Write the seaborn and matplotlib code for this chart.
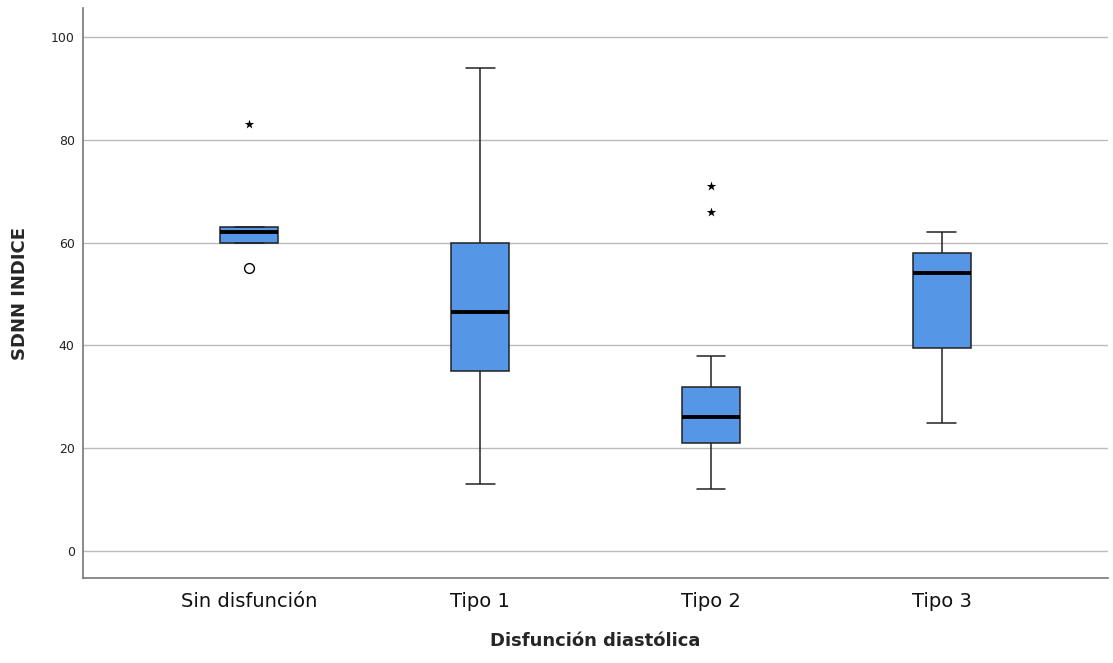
import numpy as np
import pandas as pd
import matplotlib
matplotlib.use("Agg")
import matplotlib.pyplot as plt
import seaborn as sns

# valores (SDNN por grupo de disfuncion diastolica)
categorias = ["Sin disfunción", "Tipo 1", "Tipo 2", "Tipo 3"]
sin_disfuncion = [55, 60, 60, 62, 63, 63, 83]
tipo_1 = [13, 28, 35, 42, 46.5, 52, 60, 75, 94]
tipo_2 = [12, 15, 19, 21, 23, 25, 26, 28, 30, 32, 38, 66, 71]
tipo_3 = [25, 35, 39.5, 48, 54, 56, 58, 60, 62]
y_ticks = [0, 20, 40, 60, 80, 100]

grupos = [sin_disfuncion, tipo_1, tipo_2, tipo_3]
df = pd.DataFrame({
    "grupo": np.repeat(categorias, [len(g) for g in grupos]),
    "sdnn": np.concatenate(grupos),
})

sns.set_style("white")
plt.rcParams["font.family"] = ["DejaVu Sans"]

fig = plt.figure(figsize=(11.13, 6.63), dpi=100)
ax = fig.add_axes([0.0746, 0.128, 0.921, 0.86])

sns.boxplot(data=df, x="grupo", y="sdnn", order=categorias, color="#5596E6",
            saturation=1, width=0.25, linecolor="#222222", linewidth=1.1,
            showfliers=False, medianprops=dict(color="black", linewidth=2.8),
            ax=ax, zorder=3)

# outliers estilo SPSS: circulo (>1.5 IQR), asterisco (>3 IQR)
leves, extremos = [], []
for i, g in enumerate(grupos):
    v = np.array(g, dtype=float)
    q1, q3 = np.percentile(v, [25, 75])
    iqr = q3 - q1
    for val in v:
        if val < q1 - 3 * iqr or val > q3 + 3 * iqr:
            extremos.append((i, val))
        elif val < q1 - 1.5 * iqr or val > q3 + 1.5 * iqr:
            leves.append((i, val))

if leves:
    lx, ly = zip(*leves)
    ax.scatter(lx, ly, marker="o", s=50, facecolors="white", edgecolors="black",
               linewidths=1.0, zorder=4)
if extremos:
    ex, ey = zip(*extremos)
    ax.scatter(ex, ey, marker="*", s=50, color="black", linewidths=0, zorder=4)

ax.set_xlim(-0.72, 3.72)
ax.set_ylim(-5.25, 105.6)
ax.set_yticks(y_ticks)
ax.yaxis.grid(True, color="#BBBBBB", linewidth=1)
ax.set_axisbelow(True)
ax.tick_params(axis="y", length=0, labelsize=9, pad=6, colors="#222222")
ax.tick_params(axis="x", length=0, labelsize=14, pad=10, colors="#111111")
for s in ["top", "right"]:
    ax.spines[s].set_visible(False)
for s in ["left", "bottom"]:
    ax.spines[s].set_color("#777777")
    ax.spines[s].set_linewidth(1.2)

ax.set_xlabel("Disfunción diastólica", fontsize=13, fontweight="bold", labelpad=15)
ax.set_ylabel("SDNN INDICE", fontsize=13, fontweight="bold", labelpad=16)

fig.savefig("out.png", dpi=100)
